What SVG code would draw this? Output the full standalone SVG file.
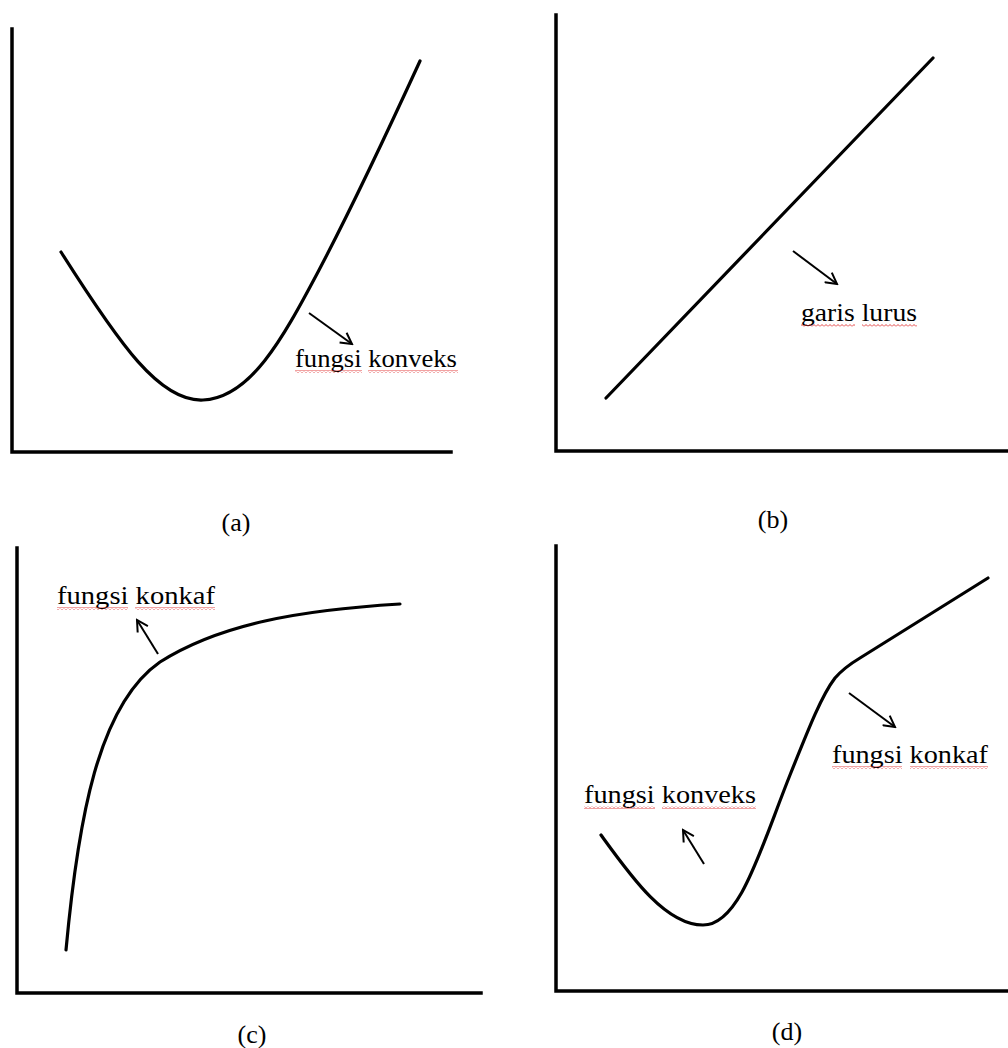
<svg xmlns="http://www.w3.org/2000/svg" width="1008" height="1048" viewBox="0 0 1008 1048">
<defs>
<style>
.axis{fill:none;stroke:#000;stroke-width:3.5;stroke-linecap:square}
.curve{fill:none;stroke:#000;stroke-width:3.2;stroke-linecap:round;stroke-linejoin:round}
.arrow{fill:none;stroke:#000;stroke-width:2;marker-end:url(#head)}
.lbl{font-family:"Liberation Serif","Times New Roman",serif;font-size:26px;fill:#000}
.cap{font-family:"Liberation Serif","Times New Roman",serif;font-size:26px;fill:#000;text-anchor:middle}
.sq{fill:url(#wave)}
</style>
<marker id="head" viewBox="0 0 14 14" refX="12" refY="7" markerWidth="14" markerHeight="14" markerUnits="userSpaceOnUse" orient="auto">
<path d="M1,1 L12,7 L1,13" fill="none" stroke="#000" stroke-width="2"/>
</marker>
<pattern id="wave" width="4" height="3" patternUnits="userSpaceOnUse">
<path d="M0,2.5 L2,0.5 L4,2.5" fill="none" stroke="#e03030" stroke-width="0.9"/>
</pattern>
</defs>
<rect width="1008" height="1048" fill="#fff"/>

<g id="panel-a">
<path class="axis" d="M12,29 V452 H451"/>
<path class="curve" d="M61,252 C120,345 160,402 203,400 C250,398 282,340 318,272 C358,196 392,122 420,61"/>
<text class="lbl" x="295" y="367" textLength="162" lengthAdjust="spacingAndGlyphs">fungsi konveks</text>
<rect class="sq" x="295" y="370" width="67" height="3"/>
<rect class="sq" x="368" y="370" width="90" height="3"/>
<text class="cap" x="236" y="531">(a)</text>
</g>

<g id="panel-b">
<path class="axis" d="M556,15 V451 H1008"/>
<path class="curve" d="M606,398 L933,58"/>
<text class="lbl" x="801" y="321" textLength="116" lengthAdjust="spacingAndGlyphs">garis lurus</text>
<rect class="sq" x="801" y="324" width="54" height="3"/>
<rect class="sq" x="862" y="324" width="55" height="3"/>
<text class="cap" x="773" y="528">(b)</text>
</g>

<g id="panel-c">
<path class="axis" d="M17,548 V993 H481"/>
<path class="curve" d="M66,950 C78,820 98,705 160,662 C220,624 300,610 400,604"/>
<text class="lbl" x="57" y="604" textLength="158" lengthAdjust="spacingAndGlyphs">fungsi konkaf</text>
<rect class="sq" x="57" y="607" width="71" height="3"/>
<rect class="sq" x="135" y="607" width="80" height="3"/>
<text class="cap" x="252" y="1043">(c)</text>
</g>

<g id="panel-d">
<path class="axis" d="M556,546 V991 H1008"/>
<path class="curve" d="M601,835 C630,875 665,925 703,925 C740,925 760,850 790,775 C810,725 822,695 835,678 C842,670 850,664 860,658 L988,578"/>
<text class="lbl" x="832" y="763" textLength="156" lengthAdjust="spacingAndGlyphs">fungsi konkaf</text>
<rect class="sq" x="832" y="766" width="70" height="3"/>
<rect class="sq" x="910" y="766" width="78" height="3"/>
<text class="lbl" x="584" y="803" textLength="172" lengthAdjust="spacingAndGlyphs">fungsi konveks</text>
<rect class="sq" x="584" y="806" width="71" height="3"/>
<rect class="sq" x="662" y="806" width="94" height="3"/>
<text class="cap" x="787" y="1040">(d)</text>
</g>

<g id="connectors">
<line class="arrow" x1="309" y1="313" x2="352" y2="344"/>
<line class="arrow" x1="793" y1="251" x2="837" y2="284"/>
<line class="arrow" x1="158" y1="654" x2="137" y2="620"/>
<line class="arrow" x1="849" y1="693" x2="895" y2="727"/>
<line class="arrow" x1="704" y1="864" x2="683" y2="830"/>
</g>
</svg>
